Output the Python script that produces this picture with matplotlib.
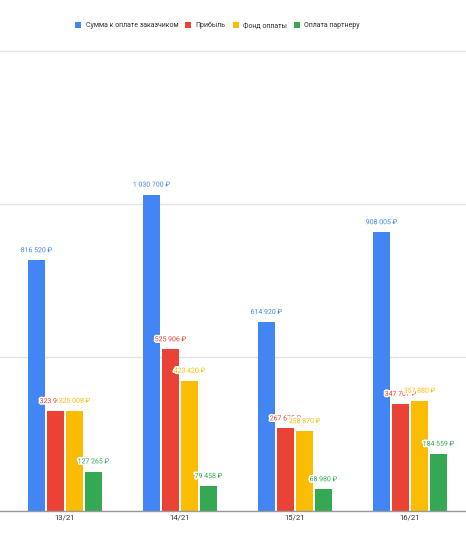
import matplotlib
matplotlib.use("Agg")
import matplotlib.pyplot as plt
import matplotlib.patheffects as pe
import numpy as np

plt.rcParams["font.family"] = ["Roboto", "DejaVu Sans"]

periods = ["13/21", "14/21", "15/21", "16/21"]
series_names = ["Сумма к оплате заказчиком", "Прибыль", "Фонд оплаты", "Оплата партнеру"]
customer_total = [816520, 1030700, 614920, 908005]
profit = [323950, 525906, 267675, 347707]
pay_fund = [325008, 423420, 258870, 357880]
partner_pay = [127265, 79458, 68980, 184559]
colors = ["#4285F4", "#EA4335", "#FBBC04", "#34A853"]


def rub(v):
    return f"{v:,}".replace(",", " ") + " ₽"


fig = plt.figure(figsize=(4.66, 5.4), dpi=100)
ax = fig.add_axes([0, 29.5 / 540, 1, 462.6 / 540])

x = np.arange(len(periods))
pitch = 0.1652
width = 0.148
all_series = [customer_total, profit, pay_fund, partner_pay]

for i, (vals, name, c) in enumerate(zip(all_series, series_names, colors)):
    xs = x + (i - 1.5) * pitch
    ax.bar(xs, vals, width=width, color=c, label=name, zorder=3)
    for xi, v in zip(xs, vals):
        ax.text(xi, v + 20000, rub(v), ha="center", va="bottom", fontsize=5.0,
                color=c, zorder=5,
                path_effects=[pe.withStroke(linewidth=2.2, foreground="white")])

ax.set_xlim(-0.565, 3.487)
ax.set_ylim(0, 1.51e6)
ax.set_yticks([0, 5e5, 1e6, 1.5e6])
ax.yaxis.grid(True, color="#e3e3e3", linewidth=1, zorder=0)
ax.tick_params(axis="y", left=False, labelleft=False)
ax.tick_params(axis="x", length=0, labelsize=5.6, colors="#333333", pad=3)
ax.set_xticks(x)
ax.set_xticklabels(periods)
for s in ["top", "right", "left"]:
    ax.spines[s].set_visible(False)
ax.spines["bottom"].set_color("#999999")
ax.spines["bottom"].set_linewidth(1)
ax.spines["bottom"].set_zorder(4)

fig.legend(loc="center", bbox_to_anchor=(0.467, 1 - 25.7 / 540), ncol=4,
           frameon=False, fontsize=5.0, handlelength=0.85, handleheight=0.85,
           handletextpad=0.6, columnspacing=1.05, labelcolor="#333333")

fig.savefig("out.png", dpi=100, facecolor="white")
